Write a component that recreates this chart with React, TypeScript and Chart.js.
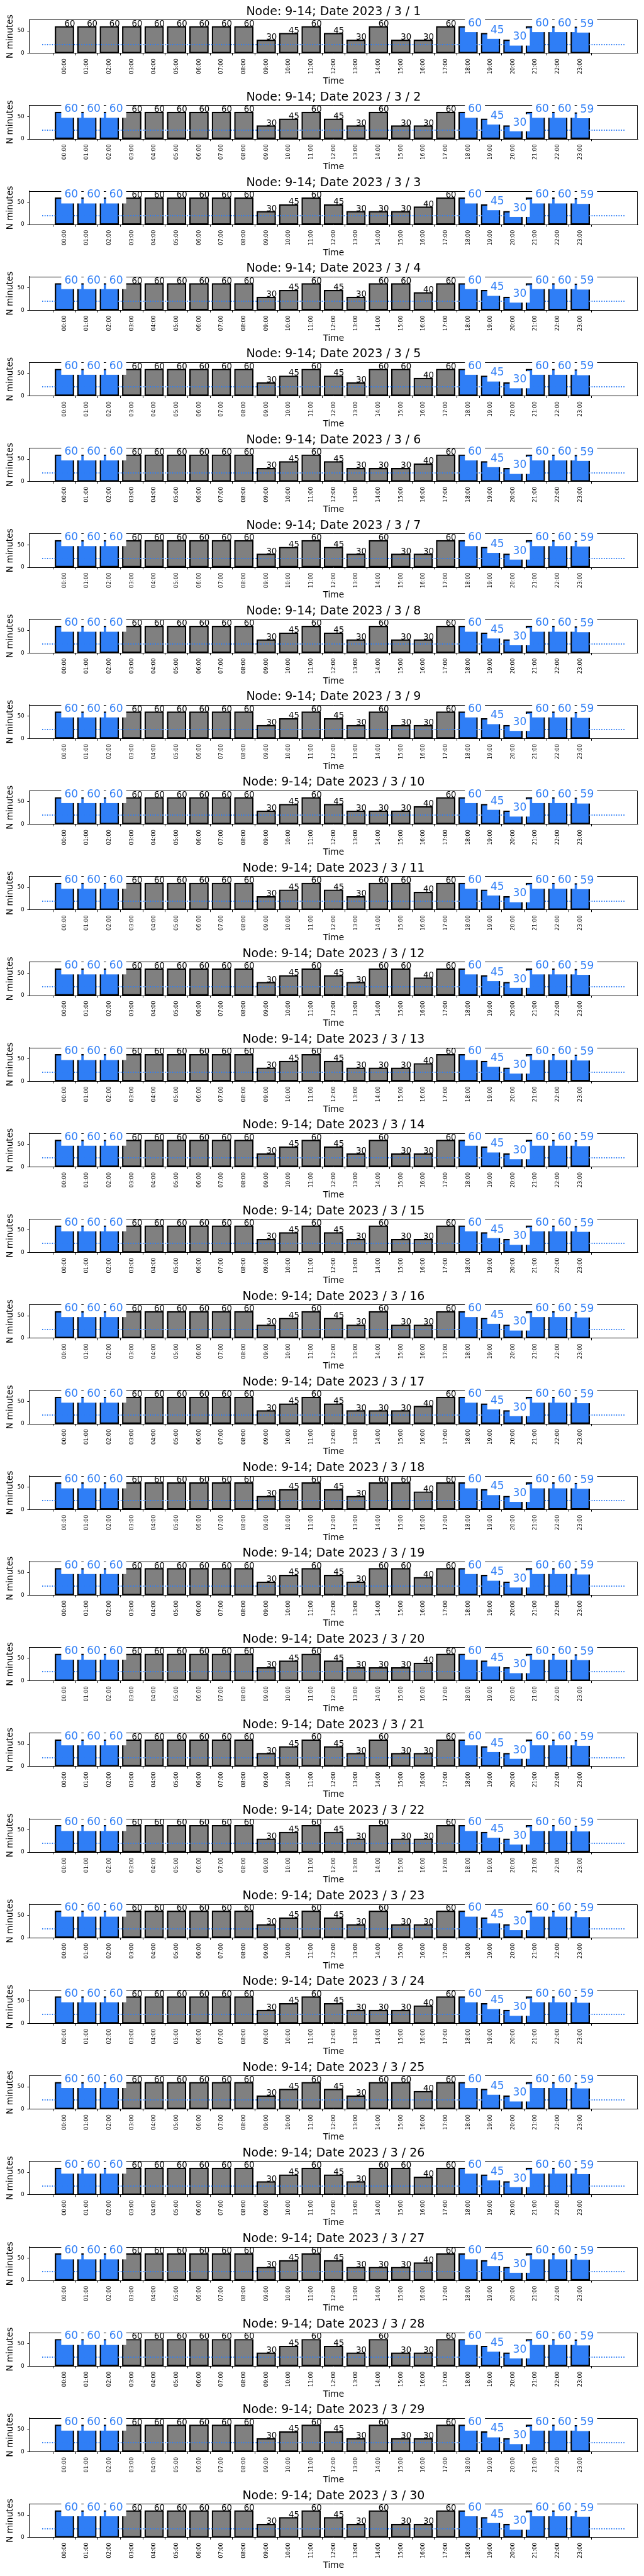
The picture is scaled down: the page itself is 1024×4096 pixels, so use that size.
import React, { useEffect, useRef } from "react";
import { Chart, registerables } from "chart.js";

Chart.register(...registerables);

const FONT = '"DejaVu Sans", "Liberation Sans", sans-serif';
const S = 1024 / 1500;

// ---------------- data ----------------
const HOUR_LABELS = [
  "00:00", "01:00", "02:00", "03:00", "04:00", "05:00", "06:00", "07:00",
  "08:00", "09:00", "10:00", "11:00", "12:00", "13:00", "14:00", "15:00",
  "16:00", "17:00", "18:00", "19:00", "20:00", "21:00", "22:00", "23:00",
];
const NODE_NAME = "9-14";
const YEAR = 2023;
const MONTH = 3;
const DAYS = [
  1, 2, 3, 4, 5, 6, 7, 8, 9, 10, 11, 12, 13, 14, 15,
  16, 17, 18, 19, 20, 21, 22, 23, 24, 25, 26, 27, 28, 29, 30,
];
const VALUES_A = [60, 60, 60, 60, 60, 60, 60, 60, 60, 30, 45, 60, 45, 30, 60, 30, 30, 60, 60, 45, 30, 60, 60, 59];
const VALUES_B = [60, 60, 60, 60, 60, 60, 60, 60, 60, 30, 45, 60, 45, 30, 30, 30, 40, 60, 60, 45, 30, 60, 60, 59];
const VALUES_C = [60, 60, 60, 60, 60, 60, 60, 60, 60, 30, 45, 60, 45, 30, 60, 60, 40, 60, 60, 45, 30, 60, 60, 59];
const DAY_PATTERN = [
  "A", "A", "B", "C", "C", "B", "A", "A", "A", "B", "C", "C", "B", "A", "A",
  "A", "B", "C", "C", "B", "A", "A", "A", "B", "C", "C", "B", "A", "A", "A",
];
const HIGHLIGHT_FIRST_DAY = [18, 19, 20, 21, 22, 23];
const HIGHLIGHT_OTHER_DAYS = [0, 1, 2, 18, 19, 20, 21, 22, 23];
const THRESHOLD = 20;
const Y_TICKS = [0, 50];
const Y_MAX = 75;
const X_MIN = -1;
const X_MAX = 25;

const PATTERNS: Record<string, number[]> = { A: VALUES_A, B: VALUES_B, C: VALUES_C };

// ---------------- style ----------------
const GRAY = "#808080";
const BLUE = "#2f7ef6";

const PERIOD = 199.52 * S;
const AX_TOP = 45.7 * S;
const AX_H = 78.6 * S;
const AX_LEFT = 68.4 * S;
const AX_RIGHT = 1485.4 * S;
const CANVAS_W = 1024;
const CANVAS_H = 140;

const TITLE_FS = 27.78 * S;
const LABEL_FS = 20 * S;
const TICK_FS = 12.5 * S;
const VAL_FS = 19.44 * S;
const HL_FS = 25 * S;

const overlayPlugin = {
  id: "overlay",
  afterDatasetsDraw(chart: any, _args: any, opts: any) {
    const { ctx, chartArea, scales } = chart;
    ctx.save();

    // threshold reference line (dotted), drawn over the bars
    const ty = Math.round(scales.y.getPixelForValue(opts.threshold));
    ctx.strokeStyle = BLUE;
    ctx.lineWidth = 2;
    ctx.setLineDash([1.6, 2.3]);
    ctx.lineCap = "butt";
    ctx.beginPath();
    ctx.moveTo(Math.round(scales.x.getPixelForValue(X_MIN)), ty);
    ctx.lineTo(scales.x.getPixelForValue(X_MAX), ty);
    ctx.stroke();
    ctx.setLineDash([]);

    // top & right spines
    ctx.strokeStyle = "#000";
    ctx.lineWidth = 1;
    ctx.beginPath();
    const t = Math.round(chartArea.top) + 0.5;
    const r = Math.round(chartArea.right) - 0.5;
    ctx.moveTo(chartArea.left, t);
    ctx.lineTo(r, t);
    ctx.lineTo(r, chartArea.bottom);
    ctx.stroke();

    // value labels
    const meta = chart.getDatasetMeta(0);
    const values: number[] = opts.values;
    const highlight: number[] = opts.highlight;
    ctx.textAlign = "left";
    ctx.textBaseline = "alphabetic";
    meta.data.forEach((bar: any, i: number) => {
      const text = String(values[i]);
      if (highlight.includes(i)) {
        ctx.font = `${HL_FS}px ${FONT}`;
        const w = ctx.measureText(text).width;
        const pad = 0.3 * HL_FS;
        const asc = 0.76 * HL_FS;
        const desc = 0.236 * HL_FS;
        ctx.fillStyle = "#ffffff";
        ctx.fillRect(bar.x - pad, bar.y - asc - pad, w + 2 * pad, asc + desc + 2 * pad);
        ctx.fillStyle = BLUE;
        ctx.fillText(text, bar.x, bar.y);
      } else {
        ctx.font = `${VAL_FS}px ${FONT}`;
        ctx.fillStyle = "#000";
        ctx.fillText(text, bar.x, bar.y);
      }
    });
    ctx.restore();
  },
};

function DayPanel({ index }: { index: number }) {
  const ref = useRef<HTMLCanvasElement>(null);
  const top = Math.floor(index * PERIOD);
  const d = index * PERIOD - top;

  useEffect(() => {
    const canvas = ref.current;
    if (!canvas) return;
    const day = DAYS[index];
    const values = PATTERNS[DAY_PATTERN[index]];
    const highlight = index === 0 ? HIGHLIGHT_FIRST_DAY : HIGHLIGHT_OTHER_DAYS;
    const colors = values.map((_, h) => (highlight.includes(h) ? BLUE : GRAY));

    const axTop = AX_TOP + d;
    const axBottom = axTop + AX_H;
    const titleLh = TITLE_FS * 1.2;
    const titlePadTop = 18.7 - titleLh / 2;
    const titlePadBottom = AX_TOP - titlePadTop - titleLh;
    const labelLh = LABEL_FS * 1.2;
    const xTitleMiddle = 129.6 + d;
    const xScaleBottom = xTitleMiddle + labelLh / 2;
    const XH = xScaleBottom - axBottom;
    const padBottom = CANVAS_H - XH - axBottom;
    const yTitleMiddle = 16.0;
    const unit = (AX_RIGHT - AX_LEFT) / (X_MAX - X_MIN);

    const chart = new Chart(canvas, {
      type: "bar",
      data: {
        datasets: [
          {
            type: "bar",
            data: values.map((v, h) => ({ x: h, y: v })),
            backgroundColor: colors,
            borderColor: "#000",
            borderWidth: 2.2,
            borderSkipped: false,
            barThickness: unit * 0.8 + 0.4,
          } as any,
        ],
      },
      options: {
        responsive: false,
        animation: false,
        events: [],
        layout: {
          padding: { top: d, left: 0, right: CANVAS_W - AX_RIGHT, bottom: padBottom },
        },
        plugins: {
          legend: { display: false },
          tooltip: { enabled: false },
          title: {
            display: true,
            fullSize: false,
            text: `Node: ${NODE_NAME}; Date ${YEAR} / ${MONTH} / ${day}`,
            color: "#000",
            font: { family: FONT, size: TITLE_FS, weight: "normal", lineHeight: 1.2 },
            padding: { top: titlePadTop, bottom: titlePadBottom },
          },
          overlay: { values, highlight, threshold: THRESHOLD },
        } as any,
        scales: {
          x: {
            type: "linear",
            min: X_MIN,
            max: X_MAX,
            afterBuildTicks: (s: any) => {
              s.ticks = HOUR_LABELS.map((_, i) => ({ value: i }));
            },
            afterFit: (s: any) => {
              s.height = XH;
            },
            ticks: {
              autoSkip: false,
              minRotation: 90,
              maxRotation: 90,
              padding: 5,
              color: "#000",
              font: { family: FONT, size: TICK_FS },
              callback: (v: any) => HOUR_LABELS[v] ?? "",
            },
            grid: {
              drawOnChartArea: false,
              drawTicks: true,
              tickLength: 3.3,
              tickWidth: 1,
              tickColor: "#000",
            },
            border: { display: true, color: "#000", width: 1 },
            title: {
              display: true,
              text: "Time",
              color: "#000",
              font: { family: FONT, size: LABEL_FS, lineHeight: 1.2 },
              padding: { top: 0, bottom: 0 },
            },
          },
          y: {
            type: "linear",
            min: 0,
            max: Y_MAX,
            afterBuildTicks: (s: any) => {
              s.ticks = Y_TICKS.map((v) => ({ value: v }));
            },
            afterFit: (s: any) => {
              s.width = AX_LEFT;
            },
            ticks: {
              padding: 4.8,
              color: "#000",
              font: { family: FONT, size: TICK_FS },
            },
            grid: {
              drawOnChartArea: false,
              drawTicks: true,
              tickLength: 3.3,
              tickWidth: 1,
              tickColor: "#000",
            },
            border: { display: true, color: "#000", width: 1 },
            title: {
              display: true,
              text: "N minutes",
              color: "#000",
              font: { family: FONT, size: LABEL_FS, lineHeight: 1.2 },
              padding: { top: yTitleMiddle - labelLh / 2, bottom: 0 },
            },
          },
        } as any,
      },
      plugins: [overlayPlugin],
    } as any);
    return () => chart.destroy();
  }, [index, d]);

  return (
    <canvas
      ref={ref}
      width={CANVAS_W}
      height={CANVAS_H}
      style={{
        position: "absolute",
        left: 0,
        top,
        width: CANVAS_W,
        height: CANVAS_H,
        display: "block",
      }}
    />
  );
}

export default function App() {
  return (
    <div
      style={{
        position: "absolute",
        left: 0,
        top: 0,
        width: 1024,
        height: 4096,
        background: "#ffffff",
        overflow: "hidden",
      }}
    >
      {DAYS.map((_, i) => (
        <DayPanel key={i} index={i} />
      ))}
    </div>
  );
}
